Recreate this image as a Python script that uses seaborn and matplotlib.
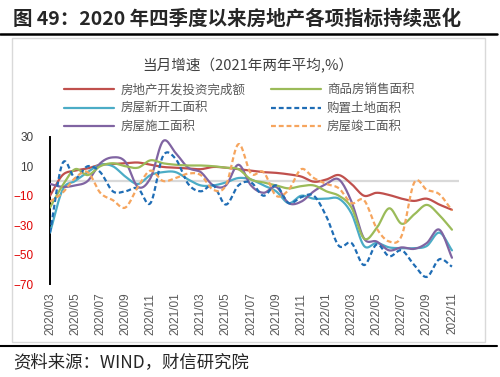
import numpy as np
import matplotlib
matplotlib.use("Agg")
import matplotlib.pyplot as plt
import matplotlib.transforms as mtransforms
import seaborn as sns
from matplotlib.lines import Line2D
from matplotlib.patches import Rectangle

# monthly single-month growth (2021 = two-year average), %
months = ["2020/03", "2020/04", "2020/05", "2020/06", "2020/07", "2020/08", "2020/09",
          "2020/10", "2020/11", "2020/12", "2021/01", "2021/02", "2021/03", "2021/04",
          "2021/05", "2021/06", "2021/07", "2021/08", "2021/09", "2021/10", "2021/11",
          "2021/12", "2022/01", "2022/02", "2022/03", "2022/04", "2022/05", "2022/06",
          "2022/07", "2022/08", "2022/09", "2022/10", "2022/11"]
invest = [-10, 4, 7, 8.5, 11, 11.5, 12, 12.5, 11, 9.5, 9, 8.5, 8, 9.5, 9, 8, 7,
          6, 5.5, 4.5, 3, -0.5, 1, 4, -2, -10, -8, -9.5, -12, -13.5, -12, -16, -19.5]
sales = [-18, -3, 8, 4, 10, 12, 10, 9, 14, 12, 11, 10.5, 10.5, 10, 9, 8, 1,
         -1, -3, -5, -3.5, -3, -7, -10, -18, -39, -32, -18.5, -29, -22.6, -16.2, -23.2, -33]
new_start = [-35, -6, 0, 6, 11, 10, 3, -2, 4, 6, 6, 1, -3, -3, -1, 2, 1,
             -3, -7, -15, -10, -12, -12, -12, -22, -44, -42, -45, -45.5, -45.5, -44, -35, -47]
land = [-35, 12, 2, 10, 6, -7, -7, -5, -15, 17, 15, -2, -7, -3, -16, -3, -1,
        -10, -3, -15, -11, -10, -24, -44, -42, -57, -43, -51, -47, -57, -65, -53, -58]
construct = [-2, -4, -3, 0, 12, 16, 13, -4, 2, 27, 19, 9, 6, -3, -3, 11, -3,
             -8, -4, -15, -14, -7, -2, 1, -14, -39, -41, -47, -45, -46, -42, -33, -52]
complete = [-14, -8, 2, 6, -8, -13, -18, -4, 7, 0, 2, 5, 4, -6, -3, 25, 5,
            6, -10, -6, 8, 2, -2, -5, -15, -13, -32, -41, -37, -1, -6, -9, -20]

series = [
    ("房地产开发投资完成额", invest, "#c0504d", "-"),
    ("房屋新开工面积", new_start, "#4bacc6", "-"),
    ("房屋施工面积", construct, "#8064a2", "-"),
    ("商品房销售面积", sales, "#9bbb59", "-"),
    ("购置土地面积", land, "#1f6db5", "--"),
    ("房屋竣工面积", complete, "#f6a55e", "--"),
]


def smooth(y, n=12):
    # Excel-like smoothed line (cubic Hermite through the monthly points)
    y = np.asarray(y, float)
    m = np.gradient(y)
    t = np.linspace(0, 1, n, endpoint=False)
    h00 = 2 * t**3 - 3 * t**2 + 1
    h10 = t**3 - 2 * t**2 + t
    h01 = -2 * t**3 + 3 * t**2
    h11 = t**3 - t**2
    xs, ys = [], []
    for i in range(len(y) - 1):
        xs.append(i + t)
        ys.append(h00 * y[i] + h10 * m[i] + h01 * y[i + 1] + h11 * m[i + 1])
    xs.append([len(y) - 1])
    ys.append([y[-1]])
    return np.concatenate(xs), np.concatenate(ys)


sns.set_style("white")
plt.rcParams["font.family"] = ["Noto Sans CJK SC", "DejaVu Sans"]

fig = plt.figure(figsize=(5, 3.77), dpi=100)
ax = fig.add_axes([50 / 500, 1 - 284.3 / 377, (459.5 - 50) / 500, (284.3 - 136.7) / 377])
ax.axhline(0, color="#d9d9d9", lw=1.6, zorder=1)

handles = []
for name, vals, color, ls in series:
    xs, ys = smooth(vals)
    dash = (0, (2.2, 1.3)) if ls == "--" else "-"
    sns.lineplot(x=xs, y=ys, color=color, lw=1.6, linestyle=dash, sort=False,
                 estimator=None, ax=ax, zorder=3)
    handles.append(Line2D([], [], color=color, lw=1.6, linestyle=dash, label=name))

ax.set_xlim(0, 32.6)
ax.set_ylim(-70, 30)
ax.set_yticks([30, 10, -10, -30, -50, -70])
ax.set_xticks(range(0, len(months), 2))
ax.set_xticklabels(months[::2], rotation=90, fontsize=8.5, color="#595959",
                   family="Liberation Sans")
shift = mtransforms.ScaledTranslation(3 / 100, 0, fig.dpi_scale_trans)
for lab in ax.get_xticklabels():
    lab.set_transform(lab.get_transform() + shift)
ax.tick_params(axis="x", length=0, pad=6)
ax.tick_params(axis="y", direction="in", length=4, width=1.4, color="black", pad=12)
for lab, v in zip(ax.get_yticklabels(), [30, 10, -10, -30, -50, -70]):
    lab.set_family("Liberation Sans")
    lab.set_fontsize(8.5)
    lab.set_color("#404040" if v > 0 else "#e00000")
for s in ["top", "right", "bottom"]:
    ax.spines[s].set_visible(False)
ax.spines["left"].set_color("black")
ax.spines["left"].set_linewidth(1.4)
ax.set_xlabel("")
ax.set_ylabel("")
ax.grid(False)

fig.legend(handles=handles, ncol=2, loc="upper left",
           bbox_to_anchor=(58 / 500, 1 - 77 / 377), frameon=False, fontsize=9,
           handlelength=4, handletextpad=0.5, columnspacing=2.0, labelspacing=0.45,
           borderpad=0, labelcolor="#595959")

fig.text(248 / 500, 1 - 66 / 377, "当月增速（2021年两年平均,%）", ha="center", va="center",
         fontsize=10.5, color="#404040")
fig.text(13 / 500, 1 - 18.5 / 377, "图 49：2020 年四季度以来房地产各项指标持续恶化",
         ha="left", va="center", fontsize=14, fontweight="bold")
fig.add_artist(Line2D([0, 497 / 500], [1 - 34 / 377] * 2, color="black", lw=1.8))
fig.add_artist(Rectangle((12 / 500, 1 - 341.5 / 377), 473 / 500, 303.5 / 377,
                         transform=fig.transFigure, fill=False, edgecolor="#d9d9d9", lw=1))
fig.add_artist(Line2D([0, 497 / 500], [1 - 345.7 / 377] * 2, color="black", lw=1.5))
fig.text(13 / 500, 1 - 362 / 377, "资料来源：WIND，财信研究院", ha="left", va="center",
         fontsize=12.5, style="italic")

fig.savefig("out.png", dpi=100)
